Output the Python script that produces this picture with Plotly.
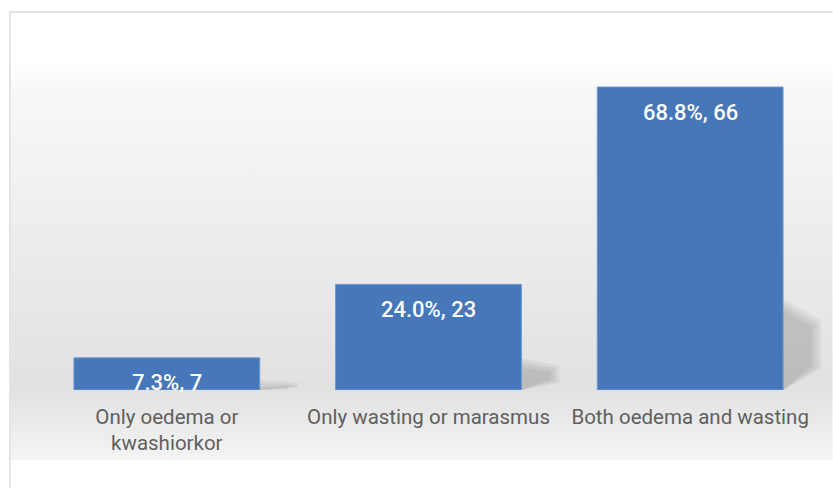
import base64
import plotly.graph_objects as go

# Cases by clinical presentation of severe acute malnutrition
categories = ["Only oedema or<br>kwashiorkor", "Only wasting or marasmus", "Both oedema and wasting"]
counts = [7, 23, 66]
percents = [7.3, 24.0, 68.8]

W, H = 833, 488
ML, MR, MT, MB = 36, 11.5, 20, 98
PW, PH = W - ML - MR, H - MT - MB
Y_MAX = 80.6

bar_color = "#4677b8"
label_color = "#5f5f5f"

# background panel: thin frame plus a soft grey band behind the bars
svg = f"""<svg xmlns='http://www.w3.org/2000/svg' width='{W}' height='{H}' viewBox='0 0 {W} {H}'>
<defs><linearGradient id='g' x1='0' y1='0' x2='0' y2='1'>
<stop offset='0' stop-color='#ffffff'/>
<stop offset='0.06' stop-color='#f8f8f8'/>
<stop offset='0.82' stop-color='#e1e1e1'/>
<stop offset='1' stop-color='#f4f4f4'/>
</linearGradient></defs>
<rect x='0' y='0' width='{W}' height='{H}' fill='#ffffff'/>
<rect x='10' y='12' width='{W}' height='{H}' fill='#ffffff' stroke='#e4e4e4' stroke-width='2'/>
<rect x='11' y='66' width='{W}' height='394' fill='url(#g)'/>
</svg>"""
svg_uri = "data:image/svg+xml;base64," + base64.b64encode(svg.encode()).decode()

fig = go.Figure()
fig.add_trace(go.Bar(
    x=list(range(len(categories))),
    y=counts,
    width=0.71,
    marker=dict(color=bar_color, line=dict(color="#6d97cf", width=1)),
    hoverinfo="skip",
))

# soft perspective shadows falling to the right of each bar
shapes = []
for i, v in enumerate(counts):
    xr = i + 0.355
    for k, op in [(0, 0.09), (0.012, 0.09), (0.024, 0.09), (0.036, 0.09)]:
        path = (f"M {xr},0 L {xr},{0.30 * v - k * 60} "
                f"L {i + 0.5 - k},{0.23 * v - k * 40} "
                f"L {i + 0.5 - k},{0.07 * v + k * 20} Z")
        shapes.append(dict(type="path", xref="x", yref="y", path=path,
                           fillcolor="#707070", opacity=op, line=dict(width=0),
                           layer="below"))

annotations = []
for i, (p, n) in enumerate(zip(percents, counts)):
    annotations.append(dict(
        x=i, y=n, xref="x", yref="y", text=f"{p:.1f}%, {n}",
        showarrow=False, yanchor="middle", yshift=-25,
        font=dict(family="Roboto", size=22, color="#ffffff", weight=500),
    ))

fig.update_layout(
    width=W, height=H,
    margin=dict(l=ML, r=MR, t=MT, b=MB, pad=0),
    paper_bgcolor="rgba(0,0,0,0)",
    plot_bgcolor="rgba(0,0,0,0)",
    showlegend=False,
    shapes=shapes,
    annotations=annotations,
    images=[dict(source=svg_uri, xref="paper", yref="paper",
                 x=-ML / PW, y=(H - MB) / PH, sizex=W / PW, sizey=H / PH,
                 xanchor="left", yanchor="top", sizing="stretch",
                 layer="below")],
    xaxis=dict(
        tickmode="array", tickvals=list(range(len(categories))), ticktext=categories,
        range=[-0.5, len(categories) - 0.5],
        showgrid=False, zeroline=False, showline=False, ticks="",
        tickfont=dict(family="Roboto", size=20.5, color=label_color),
        ticklabelstandoff=12,
    ),
    yaxis=dict(range=[0, Y_MAX], visible=False, showgrid=False, zeroline=False),
)

fig.write_html("out.html")
